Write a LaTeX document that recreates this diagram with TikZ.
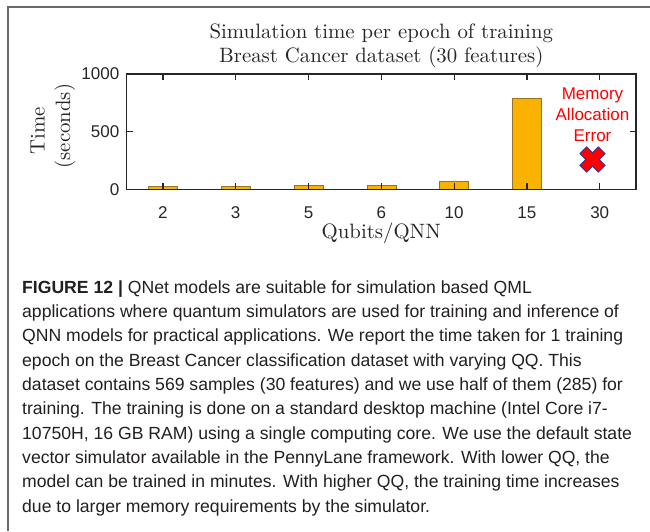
\documentclass[tikz,border=0pt]{standalone}
\usepackage{fontspec}
\usepackage{graphicx}
\newfontfamily\arialfont{Liberation Sans}
\definecolor{barorange}{RGB}{250,178,0}
\definecolor{baredge}{RGB}{150,115,40}
\definecolor{axisgray}{RGB}{38,38,38}
\definecolor{framegray}{RGB}{105,105,105}
\definecolor{errred}{RGB}{255,0,0}
\definecolor{xblue}{RGB}{30,60,170}
\definecolor{captext}{RGB}{35,31,32}
\newcommand{\lmtext}[1]{\scalebox{2.08}{\fontsize{10}{12}\selectfont #1}}
\tikzset{
  axisline/.style={draw=axisgray, line width=1.4pt},
  tickline/.style={draw=axisgray, line width=1.2pt},
  barbox/.style={fill=barorange, draw=baredge, line width=0.6pt},
  ticklab/.style={font=\arialfont\fontsize{17}{20}\selectfont, text=axisgray, inner sep=0pt},
  lmlab/.style={inner sep=0pt, text=black!85},
  errtext/.style={font=\arialfont\fontsize{17}{21}\selectfont, text=errred, align=center, inner sep=0pt},
  xmark/.style={fill=errred, draw=xblue, line width=0.9pt, line join=miter},
  framestyle/.style={draw=framegray, line width=1.5pt},
  capline/.style={anchor=base west, inner sep=0pt, font=\arialfont\fontsize{17.6}{24}\selectfont, text=captext}
}
\begin{document}
\begin{tikzpicture}[x=1pt,y=-1pt]
\useasboundingbox (0,0) rectangle (650,531);
% outer frame
\draw[framestyle] (650,7) -- (8,7) -- (8,531);
% bars
\foreach \i/\v in {0/25,1/28,2/33,3/37,4/72,5/792} {
  \pgfmathsetmacro\cx{162.9+72.8*\i}
  \pgfmathsetmacro\bartop{189.3-0.1153*\v}
  \draw[barbox] (\cx-14.5,189.3) rectangle (\cx+14.5,\bartop);
}
% axes box
\draw[axisline] (126.5,74) rectangle (636,189.3);
% x ticks and labels
\foreach \i/\lab in {0/2,1/3,2/5,3/6,4/10,5/15,6/30} {
  \pgfmathsetmacro\cx{162.9+72.8*\i}
  \draw[tickline] (\cx,189.3) -- (\cx,183.3);
  \draw[tickline] (\cx,74) -- (\cx,80);
  \node[ticklab, anchor=base] (xt\i) at (\cx,218.5) {\lab};
}
% y ticks and labels
\draw[tickline] (126.5,131.65) -- (132.5,131.65);
\draw[tickline] (636,131.65) -- (630,131.65);
\node[ticklab, anchor=east] (yt0) at (119.5,189.3) {0};
\node[ticklab, anchor=east] (yt500) at (119.5,131.65) {500};
\node[ticklab, anchor=east] (yt1000) at (119.5,74) {1000};
% titles and axis labels
\node[lmlab, anchor=base] (title1) at (381.3,38.5) {\lmtext{Simulation time per epoch of training}};
\node[lmlab, anchor=base] (title2) at (381.3,62.5) {\lmtext{Breast Cancer dataset (30 features)}};
\node[lmlab, anchor=base] (xlab) at (381.3,238) {\lmtext{Qubits/QNN}};
\node[lmlab, anchor=base, rotate=90] (ylab1) at (44.5,130.5) {\lmtext{Time}};
\node[lmlab, anchor=base, rotate=90] (ylab2) at (70,126) {\lmtext{(seconds)}};
% error annotation
\node[errtext] (err) at (592.5,115) {Memory\\Allocation\\Error};
\begin{scope}[shift={(592.5,159.5)}, rotate=45]
\draw[xmark] (4.7,4.7) -- (4.7,13) -- (-4.7,13) -- (-4.7,4.7) -- (-13,4.7) -- (-13,-4.7) -- (-4.7,-4.7) -- (-4.7,-13) -- (4.7,-13) -- (4.7,-4.7) -- (13,-4.7) -- (13,4.7) -- cycle;
\end{scope}
% caption
\node[capline] (cap1) at (22,293.0) {\textbf{FIGURE 12 |} QNet models are suitable for simulation based QML};
\node[capline] (cap2) at (22,317.35) {applications where quantum simulators are used for training and inference of};
\node[capline] (cap3) at (22,341.7) {QNN models for practical applications. We report the time taken for 1 training};
\node[capline] (cap4) at (22,366.05) {epoch on the Breast Cancer classification dataset with varying QQ. This};
\node[capline] (cap5) at (22,390.4) {dataset contains 569 samples (30 features) and we use half of them (285) for};
\node[capline] (cap6) at (22,414.75) {training. The training is done on a standard desktop machine (Intel Core i7-};
\node[capline] (cap7) at (22,439.1) {10750H, 16 GB RAM) using a single computing core. We use the default state};
\node[capline] (cap8) at (22,463.45) {vector simulator available in the PennyLane framework. With lower QQ, the};
\node[capline] (cap9) at (22,487.8) {model can be trained in minutes. With higher QQ, the training time increases};
\node[capline] (cap10) at (22,512.15) {due to larger memory requirements by the simulator.};
\end{tikzpicture}
\end{document}
